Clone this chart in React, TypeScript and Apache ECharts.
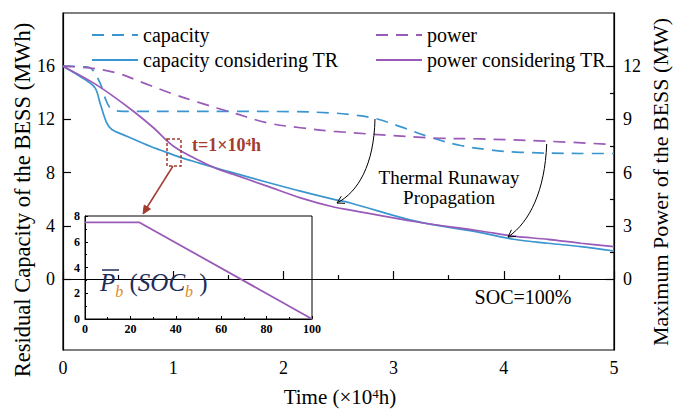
import React, { useEffect, useRef } from 'react';
import * as echarts from 'echarts';

const FONT = "'Liberation Serif', 'Times New Roman', serif";
const BLUE = '#3a96d0';
const PURPLE = '#9a5ab8';
const RED = '#a33b2e';
const NAVY = '#1f2d5a';
const ORANGE = '#e08a1e';

// axis ticks
const capacityTicks = [0, 4, 8, 12, 16];
const powerTicks = [0, 3, 6, 9, 12];
const powerMinorTicks = [1.5, 4.5, 7.5, 10.5];

// capacity (MWh), dashed blue
const capTime = [0, 0.2, 0.26, 0.336, 0.382, 0.427, 0.503, 0.7, 1.0, 1.5, 2.06, 2.43, 2.61, 2.84, 3.06, 3.34, 3.61, 3.88, 4.15, 4.7, 5];
const capValue = [16, 15.95, 15.8, 14.74, 13.62, 12.87, 12.63, 12.6, 12.6, 12.6, 12.59, 12.49, 12.36, 12.06, 11.46, 10.64, 10.04, 9.7, 9.53, 9.44, 9.44];

// capacity considering TR (MWh), solid blue
const capTrTime = [0, 0.2, 0.291, 0.336, 0.397, 0.443, 0.579, 0.791, 0.882, 1.064, 1.245, 1.397, 1.548, 1.852, 2.155, 2.457, 2.609, 3.2, 3.79, 4.09, 4.4, 4.7, 5];
const capTrValue = [16, 14.99, 14.37, 13.24, 11.74, 11.24, 10.74, 9.98, 9.7, 9.15, 8.7, 8.32, 7.98, 7.28, 6.61, 5.99, 5.72, 4.35, 3.49, 2.99, 2.69, 2.44, 2.11];

// power (MW), dashed purple
const powTime = [0, 0.245, 0.488, 0.73, 0.973, 1.245, 1.545, 1.852, 2.155, 2.457, 3.336, 3.79, 4.4, 5];
const powValue = [12, 11.9, 11.62, 11.06, 10.49, 9.93, 9.37, 8.81, 8.53, 8.33, 7.96, 7.9, 7.77, 7.58];

// power considering TR (MW), solid purple
const powTrTime = [0, 0.275, 0.457, 0.639, 0.821, 1.003, 1.245, 1.397, 1.548, 1.852, 2.155, 2.457, 2.609, 3.2, 3.79, 4.09, 4.4, 4.7, 5];
const powTrValue = [12, 11.06, 10.3, 9.46, 8.53, 7.49, 6.65, 6.22, 5.9, 5.24, 4.58, 4.06, 3.89, 3.23, 2.71, 2.42, 2.24, 2.02, 1.83];

// inset: P_b(SOC_b)
const socX = [0, 24, 100];
const pbarY = [7.5, 7.5, 0];

const pairs = (xs: number[], ys: number[]) => xs.map((x, i) => [x, ys[i]]);

function arrowHead(ex: number, ey: number, fx: number, fy: number, len: number, ang: number) {
  const dx = ex - fx, dy = ey - fy;
  const n = Math.hypot(dx, dy);
  const bx = -dx / n, by = -dy / n;
  const c = Math.cos(ang), s = Math.sin(ang);
  const p1 = [ex + len * (bx * c - by * s), ey + len * (bx * s + by * c)];
  const p2 = [ex + len * (bx * c + by * s), ey + len * (-bx * s + by * c)];
  return [p1, p2];
}

function txt(x: number, y: number, text: string, size: number, extra: any = {}, el: any = {}) {
  return {
    type: 'text', x, y, z: 100, ...el,
    style: {
      text, fontSize: size, fontFamily: FONT, fill: '#000',
      align: 'center', verticalAlign: 'middle',
      ...extra,
    },
  };
}

export default function App() {
  const ref = useRef<HTMLDivElement>(null);
  useEffect(() => {
    document.body.style.margin = '0';
    const chart = echarts.init(ref.current!, undefined, { renderer: 'svg' });
    const axisLine = { show: true, lineStyle: { color: '#000', width: 1.2 } };
    const tickLine = { color: '#000', width: 1.2 };
    const label = { fontFamily: FONT, fontSize: 18, color: '#000' };
    const insetLabel = { fontFamily: FONT, fontSize: 12, fontWeight: 'bold', color: '#000' };

    const a1s = [375, 119], a1c1 = [374, 165], a1c2 = [358, 192], a1e = [337, 203];
    const a2s = [546.7, 144], a2c1 = [545, 190], a2c2 = [530, 222], a2e = [508, 237];
    const h1 = arrowHead(a1e[0], a1e[1], a1c2[0], a1c2[1], 8, Math.PI / 6);
    const h2 = arrowHead(a2e[0], a2e[1], a2c2[0], a2c2[1], 8, Math.PI / 6);
    const rh = arrowHead(143, 214, 173, 166, 9, 0.42);

    const legendCommon = {
      orient: 'vertical', top: 20, itemWidth: 46, itemHeight: 14, itemGap: 5, selectedMode: false,
      itemStyle: { opacity: 0, borderWidth: 0 },
      textStyle: { fontFamily: FONT, fontSize: 20, color: '#000', lineHeight: 20 },
    };
    const seriesCommon = { type: 'line', xAxisIndex: 0, symbol: 'none', smooth: 0.35 };

    const mainTok = { fontSize: 25, fontFamily: FONT, fill: NAVY, lineHeight: 26, verticalAlign: 'top' };
    const subTok = { fontSize: 16, fontFamily: FONT, fontStyle: 'italic', fill: ORANGE, lineHeight: 42, verticalAlign: 'middle' };

    const option: any = {
      animation: false,
      grid: [
        { left: 63, right: 59, top: 13, bottom: 60, show: true, borderColor: '#000', borderWidth: 1.2, backgroundColor: 'transparent' },
        { left: 85, top: 216, width: 227, height: 103, show: true, borderColor: '#000', borderWidth: 1, backgroundColor: '#fff' },
      ],
      legend: [
        { ...legendCommon, data: ['capacity', 'capacity considering TR'], left: 86 },
        { ...legendCommon, data: ['power', 'power considering TR'], left: 370 },
      ],
      xAxis: [
        {
          type: 'value', gridIndex: 0, min: 0, max: 5, interval: 1,
          axisLine, axisTick: { inside: true, length: 8, lineStyle: tickLine },
          minorTick: { show: true, splitNumber: 2, length: 4, lineStyle: tickLine },
          splitLine: { show: false }, minorSplitLine: { show: false },
          axisLabel: { ...label, margin: 9 },
        },
        {
          type: 'value', gridIndex: 1, min: 0, max: 100, interval: 20,
          axisLine: { show: true, lineStyle: { color: '#000', width: 1 } },
          axisTick: { inside: true, length: 3, lineStyle: { color: '#000', width: 1 } },
          minorTick: { show: true, splitNumber: 2, length: 2, lineStyle: { color: '#000', width: 1 } },
          splitLine: { show: false },
          axisLabel: { ...insetLabel, margin: 4 },
        },
      ],
      yAxis: [
        {
          type: 'value', gridIndex: 0, position: 'left', min: -16 / 3, max: 20,
          axisLine, axisTick: { inside: true, length: 8, lineStyle: tickLine, customValues: capacityTicks },
          splitLine: { show: false },
          axisLabel: { ...label, margin: 8, customValues: capacityTicks },
        },
        {
          type: 'value', gridIndex: 0, position: 'right', min: -4, max: 15,
          axisLine, axisTick: { inside: true, length: 8, lineStyle: tickLine, customValues: powerTicks },
          splitLine: { show: false },
          axisLabel: { ...label, margin: 9, customValues: powerTicks },
        },
        {
          type: 'value', gridIndex: 0, position: 'right', min: -4, max: 15,
          axisLine: { show: false }, axisTick: { inside: true, length: 4, lineStyle: tickLine, customValues: powerMinorTicks },
          splitLine: { show: false }, axisLabel: { show: false },
        },
        {
          type: 'value', gridIndex: 1, min: 0, max: 8, interval: 2,
          axisLine: { show: true, lineStyle: { color: '#000', width: 1 } },
          axisTick: { inside: true, length: 3, lineStyle: { color: '#000', width: 1 } },
          minorTick: { show: true, splitNumber: 2, length: 2, lineStyle: { color: '#000', width: 1 } },
          splitLine: { show: false },
          axisLabel: { ...insetLabel, margin: 5 },
        },
      ],
      series: [
        {
          ...seriesCommon, name: 'capacity', yAxisIndex: 0, data: pairs(capTime, capValue), color: BLUE,
          lineStyle: { color: BLUE, width: 1.7, type: [12, 8] },
        },
        {
          ...seriesCommon, name: 'capacity considering TR', yAxisIndex: 0, data: pairs(capTrTime, capTrValue), color: BLUE,
          lineStyle: { color: BLUE, width: 1.7, type: 'solid' },
        },
        {
          ...seriesCommon, name: 'power', yAxisIndex: 1, data: pairs(powTime, powValue), color: PURPLE,
          lineStyle: { color: PURPLE, width: 1.7, type: [12, 8] },
        },
        {
          ...seriesCommon, name: 'power considering TR', yAxisIndex: 1, data: pairs(powTrTime, powTrValue), color: PURPLE,
          lineStyle: { color: PURPLE, width: 1.7, type: 'solid' },
        },
        {
          name: 'Pb', type: 'line', xAxisIndex: 1, yAxisIndex: 3, data: pairs(socX, pbarY),
          symbol: 'none', color: PURPLE, lineStyle: { color: PURPLE, width: 1.8 },
        },
      ],
      graphic: [
        // axis titles
        txt(22, 200, 'Residual Capacity of the BESS (MWh)', 22.5, {}, { rotation: Math.PI / 2 }),
        txt(660, 182, 'Maximum Power of the BESS (MW)', 22, {}, { rotation: Math.PI / 2 }),
        {
          type: 'text', x: 340, y: 397, z: 100,
          style: {
            text: '{a|Time (×10}{b|4}{a|h)}', align: 'center', verticalAlign: 'middle',
            rich: {
              a: { fontSize: 21, fontFamily: FONT, fill: '#000' },
              b: { fontSize: 13, fontFamily: FONT, fill: '#000', verticalAlign: 'top' },
            },
          },
        },
        // annotations
        {
          type: 'text', x: 192, y: 145, z: 100,
          style: {
            text: '{a|t=1×10}{b|4}{a|h}', align: 'left', verticalAlign: 'middle',
            rich: {
              a: { fontSize: 18, fontFamily: FONT, fontWeight: 'bold', fill: RED },
              b: { fontSize: 11, fontFamily: FONT, fontWeight: 'bold', fill: RED, verticalAlign: 'top' },
            },
          },
        },
        txt(449, 177.5, 'Thermal Runaway', 19),
        txt(449, 197.5, 'Propagation', 19),
        txt(523, 297, 'SOC=100%', 20),
        {
          type: 'rect', z: 100, shape: { x: 167, y: 139, width: 14, height: 27 },
          style: { fill: 'none', stroke: RED, lineWidth: 1.5, lineDash: [3, 2] },
        },
        { type: 'line', z: 100, shape: { x1: 173, y1: 166, x2: 146, y2: 209 }, style: { stroke: RED, lineWidth: 1.5 } },
        { type: 'polygon', z: 100, shape: { points: [[143, 214], rh[0], rh[1]] }, style: { fill: RED, stroke: RED } },
        {
          type: 'bezierCurve', z: 100,
          shape: { x1: a1s[0], y1: a1s[1], cpx1: a1c1[0], cpy1: a1c1[1], cpx2: a1c2[0], cpy2: a1c2[1], x2: a1e[0], y2: a1e[1] },
          style: { stroke: '#000', lineWidth: 1, fill: 'none' },
        },
        { type: 'polyline', z: 100, shape: { points: [h1[0], a1e, h1[1]] }, style: { stroke: '#000', lineWidth: 1, fill: 'none' } },
        {
          type: 'bezierCurve', z: 100,
          shape: { x1: a2s[0], y1: a2s[1], cpx1: a2c1[0], cpy1: a2c1[1], cpx2: a2c2[0], cpy2: a2c2[1], x2: a2e[0], y2: a2e[1] },
          style: { stroke: '#000', lineWidth: 1, fill: 'none' },
        },
        { type: 'polyline', z: 100, shape: { points: [h2[0], a2e, h2[1]] }, style: { stroke: '#000', lineWidth: 1, fill: 'none' } },
        // inset label  P̄_b (SOC_b)
        {
          type: 'text', x: 100, y: 270.4, z: 100,
          style: {
            text: '{pi|P}{s|b}{n| (}{pi|SOC}{s|b}{n| )}', align: 'left', verticalAlign: 'top',
            rich: {
              pi: { ...mainTok, fontStyle: 'italic' },
              n: { ...mainTok },
              s: subTok,
            },
          },
        },
        { type: 'line', z: 100, shape: { x1: 102, y1: 270, x2: 119, y2: 270 }, style: { stroke: NAVY, lineWidth: 1.5 } },
      ],
    };
    chart.setOption(option);
    return () => chart.dispose();
  }, []);
  return <div ref={ref} style={{ width: 673, height: 410 }} />;
}
